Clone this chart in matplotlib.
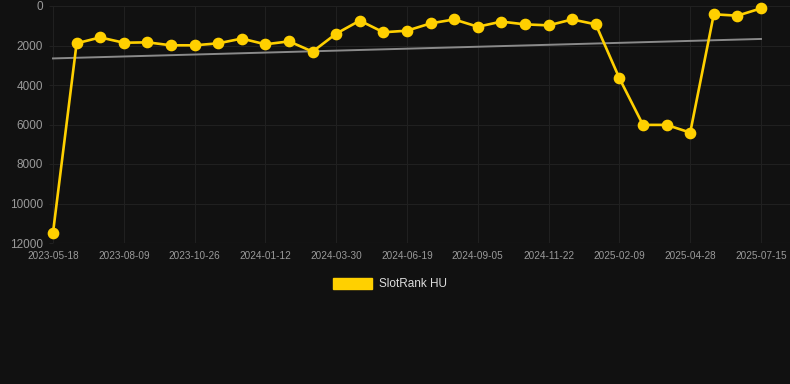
import numpy as np
import matplotlib
matplotlib.use('Agg')
import matplotlib.pyplot as plt

plt.rcParams['font.family'] = ['Liberation Sans', 'DejaVu Sans']

# SlotRank HU rank per sample (lower is better, axis inverted)
ranks = [11480, 1890, 1590, 1860, 1840, 1990, 1990, 1890, 1650, 1940,
         1790, 2310, 1400, 740, 1330, 1250, 880, 680, 1050, 790,
         930, 980, 680, 930, 3660, 6020, 6020, 6410, 420, 490, 120]
tick_labels = ['2023-05-18', '2023-08-09', '2023-10-26', '2024-01-12',
               '2024-03-30', '2024-06-19', '2024-09-05', '2024-11-22',
               '2025-02-09', '2025-04-28', '2025-07-15']
y_ticks = [0, 2000, 4000, 6000, 8000, 10000, 12000]
series_name = 'SlotRank HU'

bg = '#111111'
grid_c = '#202020'
text_c = '#9a9a9a'
gold = '#FFD000'

x = np.arange(len(ranks))
# linear trend over the series
slope, intercept = np.polyfit(x, ranks, 1)
trend = slope * x + intercept

fig = plt.figure(figsize=(7.9, 3.84), dpi=100)
fig.patch.set_facecolor(bg)
ax = fig.add_axes([53 / 790, 1 - 243 / 384, 737 / 790, 237 / 384])
ax.set_facecolor(bg)

ax.plot(x, trend, color='#8a8a8a', lw=1.4, zorder=2, clip_on=False)
ax.plot(x, ranks, color=gold, lw=1.9, marker='o', markersize=7.4,
        zorder=3, clip_on=False, label=series_name)

ax.set_xlim(0, 30 + 29 / 23.6)
ax.set_ylim(12000, 0)
ax.set_yticks(y_ticks)
ax.set_yticklabels([str(v) for v in y_ticks])
ax.set_xticks(x[::3])
ax.set_xticklabels(tick_labels)

ax.grid(True, color=grid_c, lw=0.8)
for s in ax.spines.values():
    s.set_visible(False)
ax.tick_params(axis='y', colors=grid_c, labelcolor=text_c, labelsize=8.5,
               length=3, pad=4)
ax.tick_params(axis='x', colors=grid_c, labelcolor=text_c, labelsize=7.2,
               length=0, pad=6)
ax.axhline(12000, color='#2a2a2a', lw=0.8, zorder=1)

leg = fig.legend(handles=[plt.Rectangle((0, 0), 1, 1, color=gold)],
                 labels=[series_name], loc='center',
                 bbox_to_anchor=(390 / 790, 1 - 284 / 384),
                 frameon=False, handlelength=3.3, handleheight=1.1,
                 handletextpad=0.6, fontsize=8.5)
for t in leg.get_texts():
    t.set_color('#dddddd')

fig.savefig('out.png', dpi=100, facecolor=bg)
